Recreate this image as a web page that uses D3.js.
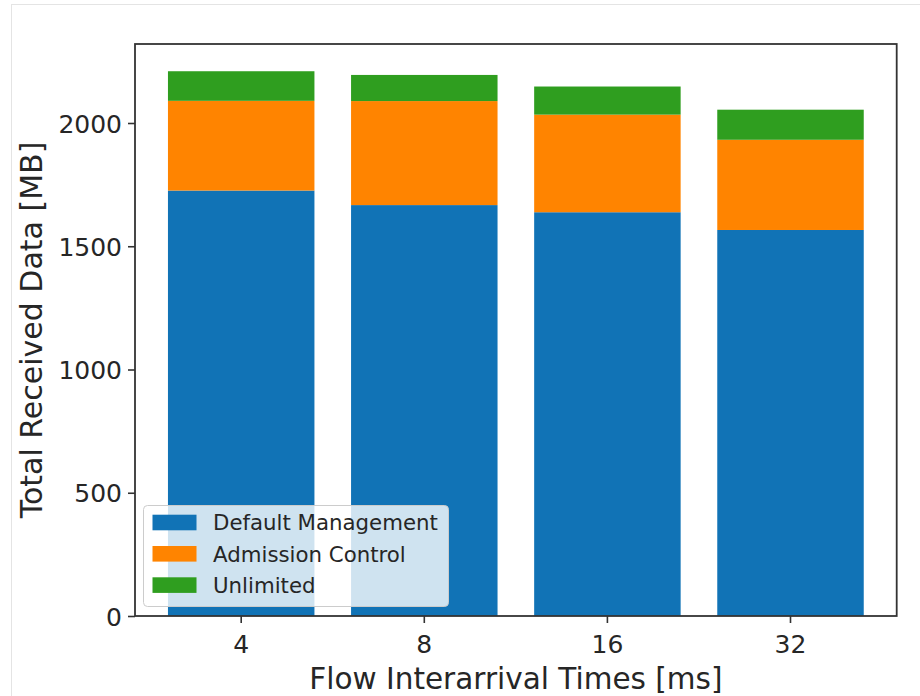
<!DOCTYPE html>
<html>
<head>
<meta charset="utf-8">
<script src="https://cdn.jsdelivr.net/npm/d3@7/dist/d3.min.js"></script>
<style>
  html, body { margin: 0; padding: 0; background: #ffffff; }
  svg { display: block; font-family: "DejaVu Sans", sans-serif; }
</style>
</head>
<body>
<svg id="chart" width="920" height="696"></svg>
<script>
// Flow interarrival times (x categories)
const categories = ["4", "8", "16", "32"];
// Received data per management scheme, stacked [MB]
const defaultManagement = [1726, 1667, 1638, 1566];
const admissionControl = [364, 422, 396, 366];
const unlimited = [120, 106, 114, 122];
const yTicks = [0, 500, 1000, 1500, 2000];

const seriesNames = ["Default Management", "Admission Control", "Unlimited"];
const seriesColors = ["#1173b6", "#ff8400", "#2f9e1f"];

const rows = categories.map((c, i) => ({
  cat: c,
  "Default Management": defaultManagement[i],
  "Admission Control": admissionControl[i],
  "Unlimited": unlimited[i]
}));

const stacked = d3.stack().keys(seriesNames)(rows);

const plot = { left: 135, right: 896.7, top: 44, bottom: 616 };
const svg = d3.select("#chart");

// faint outer frame lines
svg.append("line").attr("x1", 11.5).attr("x2", 11.5).attr("y1", 4).attr("y2", 696)
  .attr("stroke", "#e4e4e4").attr("stroke-width", 1);
svg.append("line").attr("x1", 11).attr("x2", 920).attr("y1", 4.5).attr("y2", 4.5)
  .attr("stroke", "#e4e4e4").attr("stroke-width", 1);

const x = d3.scaleBand()
  .domain(categories)
  .range([plot.left, plot.right])
  .paddingInner(0.2)
  .paddingOuter(0.18);

const maxTotal = d3.max(rows, r => r["Default Management"] + r["Admission Control"] + r["Unlimited"]);
const y = d3.scaleLinear()
  .domain([0, maxTotal * 1.05])
  .range([plot.bottom, plot.top]);

// stacked bars
svg.append("g").selectAll("g")
  .data(stacked)
  .join("g")
  .attr("fill", (d, i) => seriesColors[i])
  .selectAll("rect")
  .data(d => d)
  .join("rect")
  .attr("x", d => x(d.data.cat))
  .attr("width", x.bandwidth())
  .attr("y", d => y(d[1]))
  .attr("height", d => y(d[0]) - y(d[1]));

// axes
const yAxis = svg.append("g")
  .attr("transform", `translate(${plot.left},0)`)
  .call(d3.axisLeft(y).tickValues(yTicks).tickSize(7).tickPadding(6).tickFormat(d3.format("d")));
const xAxis = svg.append("g")
  .attr("transform", `translate(0,${plot.bottom})`)
  .call(d3.axisBottom(x).tickSize(7).tickPadding(6));

[yAxis, xAxis].forEach(g => {
  g.select(".domain").remove();
  g.selectAll(".tick line").attr("stroke", "#333").attr("stroke-width", 1.6);
  g.selectAll(".tick text")
    .attr("fill", "#262626")
    .style("font-size", "25px")
    .style("font-family", "DejaVu Sans, sans-serif");
});
yAxis.selectAll(".tick text").attr("dy", "0.36em");
xAxis.selectAll(".tick text").attr("dy", "0.95em");

// plot frame
svg.append("rect")
  .attr("x", plot.left).attr("y", plot.top)
  .attr("width", plot.right - plot.left).attr("height", plot.bottom - plot.top)
  .attr("fill", "none").attr("stroke", "#333").attr("stroke-width", 1.8);

// axis titles
svg.append("text")
  .attr("x", (plot.left + plot.right) / 2).attr("y", 689)
  .attr("text-anchor", "middle")
  .attr("fill", "#262626")
  .style("font-size", "29.5px")
  .text("Flow Interarrival Times [ms]");

svg.append("text")
  .attr("transform", `translate(42,${(plot.top + plot.bottom) / 2}) rotate(-90)`)
  .attr("text-anchor", "middle")
  .attr("fill", "#262626")
  .style("font-size", "30px")
  .text("Total Received Data [MB]");

// legend
const legend = svg.append("g");
legend.append("rect")
  .attr("x", 143.5).attr("y", 505.5).attr("width", 305).attr("height", 101)
  .attr("rx", 4).attr("ry", 4)
  .attr("fill", "#ffffff").attr("fill-opacity", 0.8)
  .attr("stroke", "#cccccc").attr("stroke-width", 1);

seriesNames.forEach((name, i) => {
  const cy = 522.5 + i * 31.3;
  legend.append("rect")
    .attr("x", 152.5).attr("y", cy - 7.8).attr("width", 44).attr("height", 15.6)
    .attr("fill", seriesColors[i]);
  legend.append("text")
    .attr("x", 213).attr("y", cy + 7.8)
    .attr("fill", "#262626")
    .style("font-size", "21.3px")
    .text(name);
});
</script>
</body>
</html>
